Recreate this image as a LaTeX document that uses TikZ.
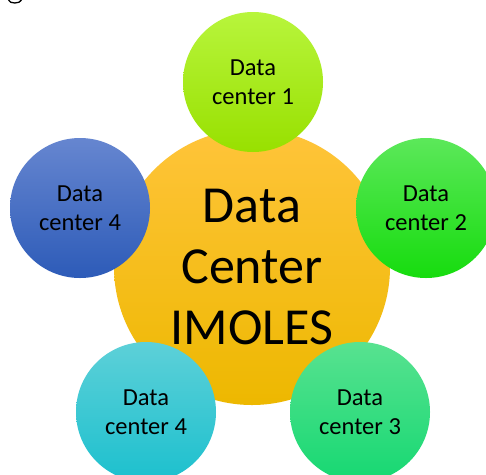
\documentclass[tikz,border=0pt]{standalone}
\usepackage{fontspec}
\setmainfont{Carlito}
\definecolor{hubtop}{HTML}{FFC43A}
\definecolor{hubbot}{HTML}{EDB800}
\definecolor{dcatop}{HTML}{B8F53C}
\definecolor{dcabot}{HTML}{98E000}
\definecolor{dcbtop}{HTML}{5CE85A}
\definecolor{dcbbot}{HTML}{16DC0E}
\definecolor{dcctop}{HTML}{58E290}
\definecolor{dccbot}{HTML}{16D872}
\definecolor{dcdtop}{HTML}{5DD0D8}
\definecolor{dcdbot}{HTML}{1CC0CE}
\definecolor{dcetop}{HTML}{6686D0}
\definecolor{dcebot}{HTML}{2D5BB8}
\begin{document}
\begin{tikzpicture}[x=1pt,y=-1pt,
  hub/.style={circle, minimum size=276pt, inner sep=0pt, align=center,
    font=\fontsize{52}{61}\selectfont, top color=hubtop, bottom color=hubbot},
  dc/.style={circle, minimum size=140pt, inner sep=0pt, align=center,
    font=\fontsize{24.5}{29}\selectfont},
]
\clip (0,0) rectangle (486,474);
\fill[white] (0,0) rectangle (486,474);
\draw[line width=1.3pt] (8.5,0) .. controls (9.5,4) and (20,4) .. (21.5,0);
\node[hub] (hub) at (252,267) {Data\\Center\\IMOLES};
\node[dc, top color=dcatop, bottom color=dcabot] (dc1) at (253,82) {Data\\center 1};
\node[dc, top color=dcbtop, bottom color=dcbbot] (dc2) at (426,208) {Data\\center 2};
\node[dc, top color=dcctop, bottom color=dccbot] (dc3) at (360,412) {Data\\center 3};
\node[dc, top color=dcdtop, bottom color=dcdbot] (dc4b) at (146,412) {Data\\center 4};
\node[dc, top color=dcetop, bottom color=dcebot] (dc4a) at (80,208) {Data\\center 4};
\end{tikzpicture}
\end{document}
